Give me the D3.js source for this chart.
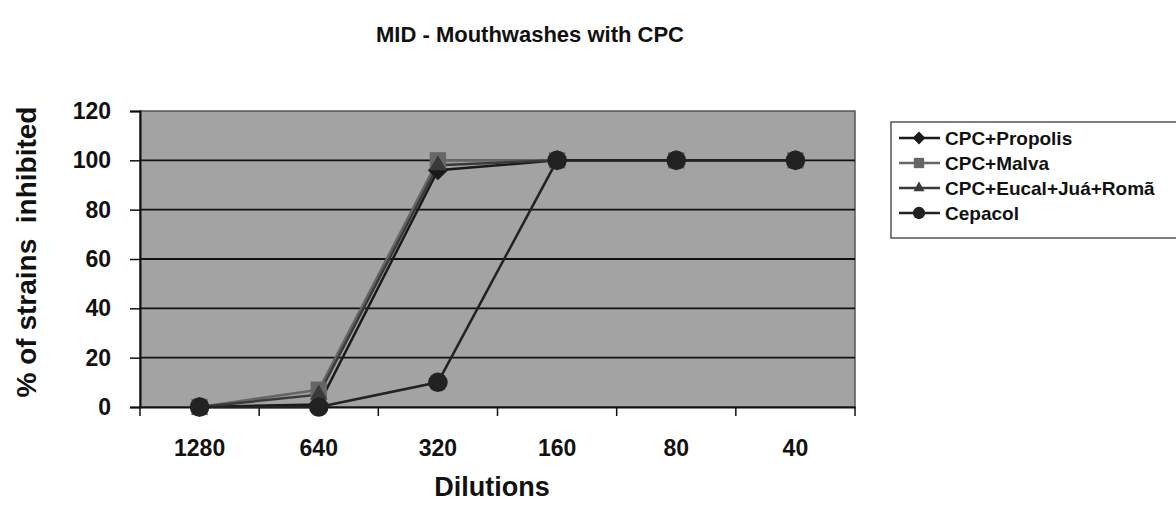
<!DOCTYPE html>
<html>
<head>
<meta charset="utf-8">
<script src="https://cdn.jsdelivr.net/npm/d3@7"></script>
<style>
  body { margin: 0; background: #fff; }
  text { font-family: "Liberation Sans", Arial, sans-serif; font-weight: bold; fill: #111; }
</style>
</head>
<body>
<div class="chart"></div>
<script>
const dilutions = ["1280", "640", "320", "160", "80", "40"]
const propolis = [0, 1, 96, 100, 100, 100]
const malva = [0, 7, 100, 100, 100, 100]
const eucal = [0, 5, 98, 100, 100, 100]
const cepacol = [0, 0, 10, 100, 100, 100]
const yTicks = [0, 20, 40, 60, 80, 100, 120]

const series = [
  {name: "CPC+Propolis", values: propolis, color: "#1a1a1a", symbol: d3.symbolDiamond2, size: 260},
  {name: "CPC+Malva", values: malva, color: "#666", symbol: d3.symbolSquare2, size: 340},
  {name: "CPC+Eucal+Juá+Romã", values: eucal, color: "#3a3a3a", symbol: d3.symbolTriangle2, size: 220},
  {name: "Cepacol", values: cepacol, color: "#222", symbol: d3.symbolCircle, size: 300}
]

const margin = {top: 111, right: 321, bottom: 113, left: 140},
    width = 1176 - margin.left - margin.right,
    height = 520 - margin.top - margin.bottom

const x = d3.scaleBand()
    .domain(dilutions)
    .range([0, width])

const y = d3.scaleLinear()
    .domain([0, 120])
    .range([height, 0])

const svg = d3.select(".chart").append("svg")
    .attr("width", 1176)
    .attr("height", 520)

const g = svg.append("g")
    .attr("transform", "translate(" + margin.left + "," + margin.top + ")")

// plot background
g.append("rect")
    .attr("width", width)
    .attr("height", height)
    .style("fill", "#a3a3a3")
    .style("stroke", "#555")
    .style("stroke-width", 1.5)

// grid
g.selectAll(".grid")
    .data(yTicks.slice(1, -1))
    .enter().append("line")
    .attr("x1", 0)
    .attr("x2", width)
    .attr("y1", function(d) { return y(d) })
    .attr("y2", function(d) { return y(d) })
    .style("stroke", "#111")
    .style("stroke-width", 1.8)

const xAxis = g.append("g")
    .attr("transform", "translate(0," + height + ")")
    .call(d3.axisBottom(x).tickSize(0).tickPadding(33))
xAxis.select(".domain").style("stroke", "#111").style("stroke-width", 2)
xAxis.selectAll("text").style("font-size", "23px").style("font-family", "'Liberation Sans', Arial, sans-serif")

// boundary ticks between categories
g.selectAll(".xtick")
    .data(dilutions.concat([""]))
    .enter().append("line")
    .attr("x1", function(d, i) { return i * x.bandwidth() })
    .attr("x2", function(d, i) { return i * x.bandwidth() })
    .attr("y1", height)
    .attr("y2", height + 9)
    .style("stroke", "#111")
    .style("stroke-width", 1.5)

const yAxis = g.append("g")
    .call(d3.axisLeft(y).tickValues(yTicks).tickSize(10).tickPadding(19))
yAxis.select(".domain").style("stroke", "#111").style("stroke-width", 2)
yAxis.selectAll("line").style("stroke", "#111").style("stroke-width", 1.5)
yAxis.selectAll("text").style("font-size", "23px").style("font-family", "'Liberation Sans', Arial, sans-serif")

const line = d3.line()
    .x(function(d, i) { return x(dilutions[i]) + x.bandwidth() / 2 })
    .y(function(d) { return y(d) })

series.forEach(function(s) {
  g.append("path")
      .datum(s.values)
      .attr("d", line)
      .style("fill", "none")
      .style("stroke", s.color)
      .style("stroke-width", 2.5)
})

series.forEach(function(s) {
  g.selectAll(null)
      .data(s.values)
      .enter().append("path")
      .attr("d", d3.symbol().type(s.symbol).size(s.size))
      .attr("transform", function(d, i) {
        return "translate(" + (x(dilutions[i]) + x.bandwidth() / 2) + "," + y(d) + ")"
      })
      .style("fill", s.color)
})

// titles
svg.append("text")
    .attr("x", 530)
    .attr("y", 42)
    .style("text-anchor", "middle")
    .style("font-size", "22px")
    .text("MID - Mouthwashes with CPC")

svg.append("text")
    .attr("transform", "translate(36,252) rotate(-90)")
    .style("text-anchor", "middle")
    .style("font-size", "28px")
    .style("white-space", "pre")
    .text("% of strains  inhibited")

svg.append("text")
    .attr("x", 492)
    .attr("y", 496)
    .style("text-anchor", "middle")
    .style("font-size", "27px")
    .text("Dilutions")

// legend
const legend = svg.append("g")
    .attr("transform", "translate(891,122)")

legend.append("rect")
    .attr("width", 300)
    .attr("height", 116)
    .style("fill", "#fff")
    .style("stroke", "#555")
    .style("stroke-width", 1.5)

const item = legend.selectAll(".legend")
    .data(series)
    .enter().append("g")
    .attr("transform", function(d, i) { return "translate(0," + (16 + i * 25) + ")" })

item.append("line")
    .attr("x1", 8)
    .attr("x2", 49)
    .style("stroke", function(d) { return d.color })
    .style("stroke-width", 2.5)

item.append("path")
    .attr("d", function(d) { return d3.symbol().type(d.symbol).size(d.size * 0.4)() })
    .attr("transform", "translate(28,0)")
    .style("fill", function(d) { return d.color })

item.append("text")
    .attr("x", 54)
    .attr("dy", ".35em")
    .style("font-size", "19px")
    .text(function(d) { return d.name })
</script>
</body>
</html>
